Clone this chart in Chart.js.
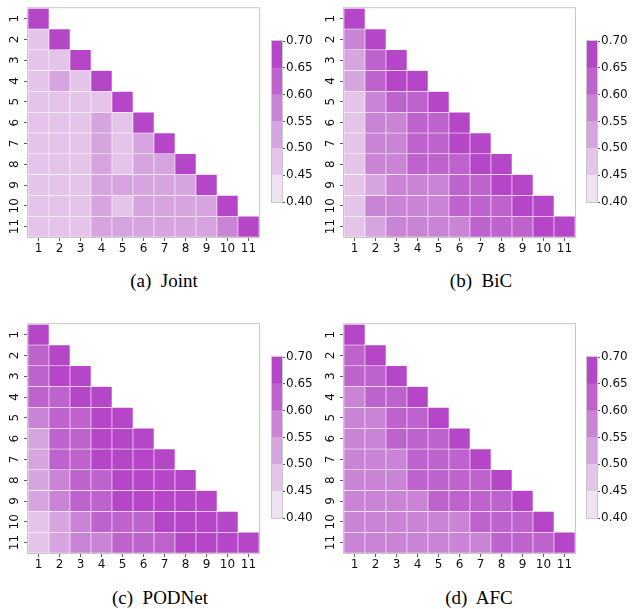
<!DOCTYPE html>
<html>
<head>
<meta charset="utf-8">
<script src="https://cdn.jsdelivr.net/npm/chart.js@4.4.1/dist/chart.umd.min.js"></script>
<style>
  body { margin: 0; background: #fff; width: 640px; height: 609px; position: relative; overflow: hidden; }
  .box { position: absolute; }
  .cap { position: absolute; font-family: "Liberation Serif", "Times New Roman", serif; font-size: 19px; color: #000; white-space: pre; transform: translate(-50%, -50%); }
</style>
</head>
<body>
<div class="box" style="left:0px;top:0px;width:265px;height:262px"><canvas id="hmA"></canvas></div>
<div class="box" style="left:316px;top:0px;width:265px;height:262px"><canvas id="hmB"></canvas></div>
<div class="box" style="left:0px;top:316px;width:265px;height:262px"><canvas id="hmC"></canvas></div>
<div class="box" style="left:316px;top:316px;width:265px;height:262px"><canvas id="hmD"></canvas></div>

<div class="box" style="left:265px;top:30px;width:60px;height:185px"><canvas id="cbA"></canvas></div>
<div class="box" style="left:580px;top:30px;width:60px;height:185px"><canvas id="cbB"></canvas></div>
<div class="box" style="left:265px;top:346px;width:60px;height:185px"><canvas id="cbC"></canvas></div>
<div class="box" style="left:580px;top:346px;width:60px;height:185px"><canvas id="cbD"></canvas></div>

<div class="cap" style="left:164px;top:281px">(a)  Joint</div>
<div class="cap" style="left:481px;top:281px">(b)  BiC</div>
<div class="cap" style="left:160px;top:598px">(c)  PODNet</div>
<div class="cap" style="left:479px;top:598px">(d)  AFC</div>

<script>
// task labels
const colLabels = ["1", "2", "3", "4", "5", "6", "7", "8", "9", "10", "11"];
const rowLabels = [1, 2, 3, 4, 5, 6, 7, 8, 9, 10, 11];

// lower triangle, row i holds i+1 values
const jointVals = [
  [0.69],
  [0.47, 0.69],
  [0.47, 0.48, 0.69],
  [0.47, 0.52, 0.48, 0.69],
  [0.47, 0.48, 0.47, 0.48, 0.69],
  [0.47, 0.48, 0.47, 0.52, 0.48, 0.69],
  [0.47, 0.48, 0.47, 0.52, 0.48, 0.52, 0.69],
  [0.47, 0.48, 0.47, 0.52, 0.48, 0.52, 0.52, 0.69],
  [0.47, 0.48, 0.47, 0.52, 0.52, 0.52, 0.52, 0.52, 0.69],
  [0.47, 0.48, 0.47, 0.52, 0.48, 0.52, 0.52, 0.52, 0.52, 0.69],
  [0.47, 0.48, 0.47, 0.52, 0.52, 0.52, 0.52, 0.52, 0.52, 0.57, 0.69]
];
const bicVals = [
  [0.69],
  [0.57, 0.69],
  [0.53, 0.62, 0.69],
  [0.53, 0.62, 0.67, 0.69],
  [0.48, 0.58, 0.63, 0.62, 0.69],
  [0.48, 0.58, 0.59, 0.62, 0.63, 0.69],
  [0.48, 0.58, 0.59, 0.62, 0.63, 0.67, 0.69],
  [0.48, 0.58, 0.59, 0.62, 0.63, 0.62, 0.67, 0.69],
  [0.48, 0.53, 0.58, 0.59, 0.58, 0.62, 0.63, 0.67, 0.69],
  [0.48, 0.58, 0.59, 0.58, 0.58, 0.62, 0.63, 0.62, 0.67, 0.69],
  [0.48, 0.53, 0.58, 0.59, 0.58, 0.57, 0.62, 0.63, 0.62, 0.67, 0.69]
];
const podnetVals = [
  [0.69],
  [0.62, 0.69],
  [0.63, 0.67, 0.69],
  [0.62, 0.63, 0.67, 0.69],
  [0.58, 0.62, 0.63, 0.67, 0.69],
  [0.53, 0.62, 0.63, 0.67, 0.67, 0.69],
  [0.53, 0.62, 0.63, 0.67, 0.67, 0.67, 0.69],
  [0.53, 0.58, 0.62, 0.63, 0.67, 0.67, 0.67, 0.69],
  [0.53, 0.58, 0.62, 0.63, 0.67, 0.67, 0.67, 0.67, 0.69],
  [0.48, 0.53, 0.58, 0.62, 0.63, 0.62, 0.67, 0.67, 0.67, 0.69],
  [0.48, 0.53, 0.58, 0.57, 0.62, 0.63, 0.62, 0.67, 0.67, 0.67, 0.69]
];
const afcVals = [
  [0.69],
  [0.62, 0.69],
  [0.62, 0.63, 0.69],
  [0.58, 0.62, 0.63, 0.69],
  [0.58, 0.57, 0.62, 0.63, 0.69],
  [0.58, 0.57, 0.62, 0.63, 0.62, 0.69],
  [0.58, 0.57, 0.57, 0.62, 0.63, 0.62, 0.69],
  [0.58, 0.57, 0.57, 0.62, 0.63, 0.62, 0.62, 0.69],
  [0.58, 0.57, 0.57, 0.58, 0.62, 0.63, 0.62, 0.62, 0.69],
  [0.58, 0.57, 0.57, 0.58, 0.57, 0.57, 0.62, 0.62, 0.62, 0.69],
  [0.58, 0.57, 0.57, 0.58, 0.57, 0.57, 0.57, 0.62, 0.62, 0.62, 0.69]
];

// colorbar bins
const cbarTicks = [0.40, 0.45, 0.50, 0.55, 0.60, 0.65, 0.70];
const binColors = ["#efe2f2", "#e4c4e9", "#d6a4de", "#c984d6", "#be62cd", "#b546c8"];

Chart.defaults.font.family = "'DejaVu Sans', sans-serif";
Chart.defaults.font.size = 12;
Chart.defaults.color = "#000";

function colorFor(v) {
  let i = Math.floor((v - cbarTicks[0]) / 0.05 + 1e-9);
  i = Math.max(0, Math.min(binColors.length - 1, i));
  return binColors[i];
}

// light grey box round the plot area
const framePlugin = {
  id: "frame",
  beforeDatasetsDraw(chart) {
    const { ctx, chartArea: a } = chart;
    ctx.save();
    ctx.strokeStyle = "#c8c8c8";
    ctx.lineWidth = 1;
    ctx.strokeRect(a.left - 0.5, a.top - 0.5, a.right - a.left + 1, a.bottom - a.top + 1);
    ctx.restore();
  }
};

function heatmap(id, vals) {
  const datasets = rowLabels.map((r, ri) => ({
    label: "row " + r,
    data: colLabels.map((c, ci) => (ci <= ri ? [r - 0.5, r + 0.5] : null)),
    backgroundColor: (ctx) => {
      const v = vals[ri][ctx.dataIndex];
      return v == null ? "rgba(0,0,0,0)" : colorFor(v);
    },
    borderColor: "#ffffff",
    borderWidth: 0.6,
    borderSkipped: false,
    grouped: false,
    barPercentage: 1,
    categoryPercentage: 1
  }));

  return new Chart(document.getElementById(id), {
    type: "bar",
    data: { labels: colLabels, datasets: datasets },
    options: {
      responsive: true,
      maintainAspectRatio: false,
      animation: false,
      layout: { padding: { top: 6, right: 6, left: 0, bottom: 0 } },
      plugins: { legend: { display: false }, tooltip: { enabled: false } },
      scales: {
        x: {
          grid: { display: true, drawOnChartArea: false, offset: false, tickLength: 4, color: "#333", tickWidth: 0.8 },
          border: { display: false },
          ticks: { padding: 1, font: { size: 12 }, color: "#111", maxRotation: 0, autoSkip: false },
          afterFit: (s) => { s.height = 25; }
        },
        y: {
          type: "linear",
          reverse: true,
          min: 0.5,
          max: 11.5,
          grid: { display: true, drawOnChartArea: false, tickLength: 4, color: "#333", tickWidth: 0.8 },
          border: { display: false },
          ticks: { padding: 1, minRotation: 90, maxRotation: 90, crossAlign: "center", font: { size: 12 }, color: "#111" },
          afterBuildTicks: (s) => { s.ticks = rowLabels.map((v) => ({ value: v })); },
          afterFit: (s) => { s.width = 28; }
        }
      }
    },
    plugins: [framePlugin]
  });
}

function colorbar(id) {
  const datasets = binColors.map((col, i) => ({
    label: cbarTicks[i].toFixed(2),
    data: [[cbarTicks[i], cbarTicks[i + 1]]],
    backgroundColor: col,
    borderWidth: 0,
    grouped: false,
    barPercentage: 1,
    categoryPercentage: 1
  }));
  return new Chart(document.getElementById(id), {
    type: "bar",
    data: { labels: [""], datasets: datasets },
    options: {
      responsive: true,
      maintainAspectRatio: false,
      animation: false,
      layout: { padding: { top: 11, left: 7, right: 0, bottom: 13 } },
      plugins: { legend: { display: false }, tooltip: { enabled: false } },
      scales: {
        x: { display: false },
        y: {
          position: "right",
          min: cbarTicks[0],
          max: cbarTicks[cbarTicks.length - 1],
          grid: { display: true, drawOnChartArea: false, tickLength: 3, color: "#333", tickWidth: 0.8 },
          border: { display: false },
          ticks: { padding: 1, font: { size: 12 }, color: "#111", callback: (v) => Number(v).toFixed(2) },
          afterBuildTicks: (s) => { s.ticks = cbarTicks.map((v) => ({ value: v })); },
          afterFit: (s) => { s.width = 43; }
        }
      }
    },
    plugins: [framePlugin]
  });
}

heatmap("hmA", jointVals);
heatmap("hmB", bicVals);
heatmap("hmC", podnetVals);
heatmap("hmD", afcVals);
colorbar("cbA");
colorbar("cbB");
colorbar("cbC");
colorbar("cbD");
</script>
</body>
</html>
